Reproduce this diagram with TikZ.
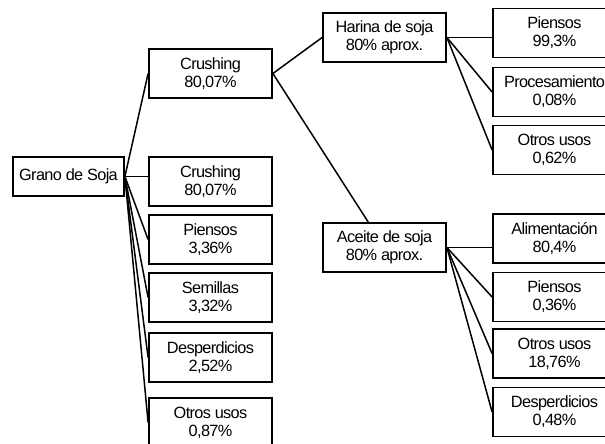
\documentclass[tikz,border=0pt]{standalone}
\usepackage{fontspec}
\setmainfont[LetterSpace=-4]{Liberation Sans}
\tikzset{caja/.style={shape=rectangle, draw=black, line width=1.8pt,
    minimum width=123pt, minimum height=49pt, inner sep=0pt, align=center,
    font=\fontsize{16.3}{18}\selectfont}}
\tikzset{rama/.style={line width=1.5pt}}
\begin{document}
\begin{tikzpicture}[x=1pt,y=-1pt]
                \useasboundingbox (0,0) rectangle (605,444);
                \clip (0,0) rectangle (605,444);

                \node[caja, minimum width=111pt, minimum height=39pt] (G) at (68.5,176.5) {Grano de Soja};

                \node[caja] (C1) at (210.5,73.5) {Crushing\\80,07\%};
                \node[caja] (C2) at (210.5,181.5) {Crushing\\80,07\%};
                \node[caja] (P1) at (210.5,239.5) {Piensos\\3,36\%};
                \node[caja] (S1) at (210.5,297.5) {Semillas\\3,32\%};
                \node[caja] (D1) at (210.5,357.5) {Desperdicios\\2,52\%};
                \node[caja] (O1) at (210.5,422.5) {Otros usos\\0,87\%};

                \node[caja] (H) at (384.5,37.5) {Harina de soja\\80\% aprox.};
                \node[caja] (A) at (384.5,247.5) {Aceite de soja\\80\% aprox.};

                \node[caja] (P2) at (554.5,33) {Piensos\\99,3\%};
                \node[caja] (Pr) at (554.5,92) {Procesamiento\\0,08\%};
                \node[caja] (O2) at (554.5,150) {Otros usos\\0,62\%};
                \node[caja] (Al) at (554.5,238.5) {Alimentación\\80,4\%};
                \node[caja] (P3) at (554.5,297) {Piensos\\0,36\%};
                \node[caja] (O3) at (554.5,353.5) {Otros usos\\18,76\%};
                \node[caja] (D2) at (554.5,412) {Desperdicios\\0,48\%};

                \draw[rama] (G.east) -- (C1.west);
                \draw[rama] (G.east) -- (G.east -| C2.west);
                \draw[rama] (G.east) -- (P1.west);
                \draw[rama] (G.east) -- (S1.west);
                \draw[rama] (G.east) -- (D1.west);
                \draw[rama] (G.east) -- (O1.west);

                \draw[rama] (C1.east) -- (H.west);
                \draw[rama] (C1.east) -- (A);

                \draw[rama] (H.east) -- (H.east -| P2.west);
                \draw[rama] (H.east) -- (Pr.west);
                \draw[rama] (H.east) -- (O2.west);

                \draw[rama] (A.east) -- (A.east -| Al.west);
                \draw[rama] (A.east) -- (P3.west);
                \draw[rama] (A.east) -- (O3.west);
                \draw[rama] (A.east) -- (D2.west);

            \end{tikzpicture}
\end{document}
